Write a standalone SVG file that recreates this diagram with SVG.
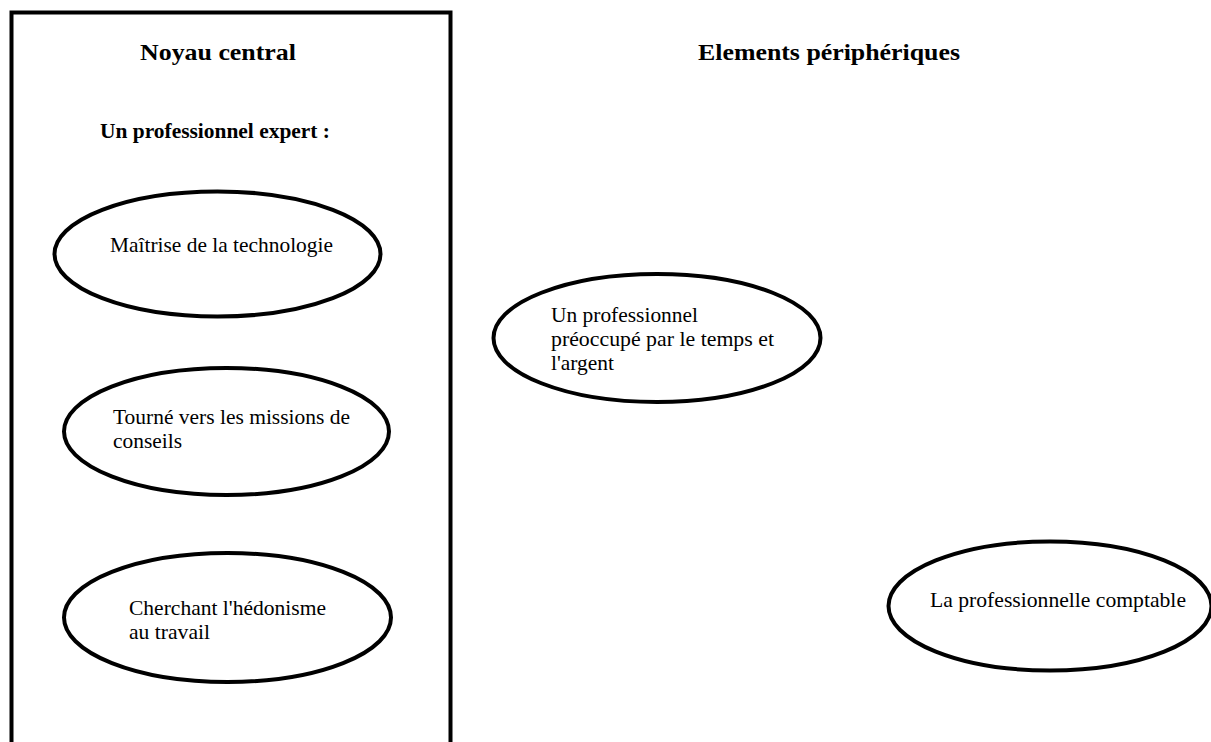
<svg xmlns="http://www.w3.org/2000/svg" width="1211" height="742" viewBox="0 0 1211 742">
<style>
.node{fill:#fff;stroke:#000;stroke-width:4}
.t{font-family:"Liberation Serif","Times New Roman",serif;font-size:20.3px;fill:#000}
.h{font-family:"Liberation Serif","Times New Roman",serif;font-weight:bold;fill:#000}
</style>
<rect x="0" y="0" width="1211" height="742" fill="#fff"/>
<g id="noyau">
<rect x="11.5" y="12.5" width="439" height="740" fill="none" stroke="#000" stroke-width="4"/>
<text class="h" x="140" y="60" font-size="24" textLength="156" lengthAdjust="spacingAndGlyphs">Noyau central</text>
<text class="h" x="100" y="138" font-size="20" textLength="230" lengthAdjust="spacingAndGlyphs">Un professionnel expert :</text>
</g>
<g id="peripheriques">
<text class="h" x="698" y="60" font-size="24" textLength="262" lengthAdjust="spacingAndGlyphs">Elements périphériques</text>
</g>
<g id="n1">
<ellipse class="node" cx="217.5" cy="254" rx="163" ry="62.5"/>
<text class="t" x="110" y="252" textLength="223" lengthAdjust="spacingAndGlyphs">Maîtrise de la technologie</text>
</g>
<g id="n2">
<ellipse class="node" cx="226.5" cy="431.5" rx="162.5" ry="63.5"/>
<text class="t" x="113" y="424" textLength="237" lengthAdjust="spacingAndGlyphs">Tourné vers les missions de</text>
<text class="t" x="113" y="448" textLength="69" lengthAdjust="spacingAndGlyphs">conseils</text>
</g>
<g id="n3">
<ellipse class="node" cx="227.5" cy="617.5" rx="163.5" ry="64.5"/>
<text class="t" x="129" y="615" textLength="197" lengthAdjust="spacingAndGlyphs">Cherchant l'hédonisme</text>
<text class="t" x="129" y="639" textLength="81" lengthAdjust="spacingAndGlyphs">au travail</text>
</g>
<g id="n4">
<ellipse class="node" cx="657" cy="338" rx="163.5" ry="64"/>
<text class="t" x="551" y="322" textLength="147" lengthAdjust="spacingAndGlyphs">Un professionnel</text>
<text class="t" x="551" y="346" textLength="223" lengthAdjust="spacingAndGlyphs">préoccupé par le temps et</text>
<text class="t" x="551" y="370" textLength="63" lengthAdjust="spacingAndGlyphs">l'argent</text>
</g>
<g id="n5">
<ellipse class="node" cx="1050" cy="606" rx="161.5" ry="64.5"/>
<text class="t" x="930" y="607" textLength="256" lengthAdjust="spacingAndGlyphs">La professionnelle comptable</text>
</g>
<g id="connectors"></g>
</svg>
